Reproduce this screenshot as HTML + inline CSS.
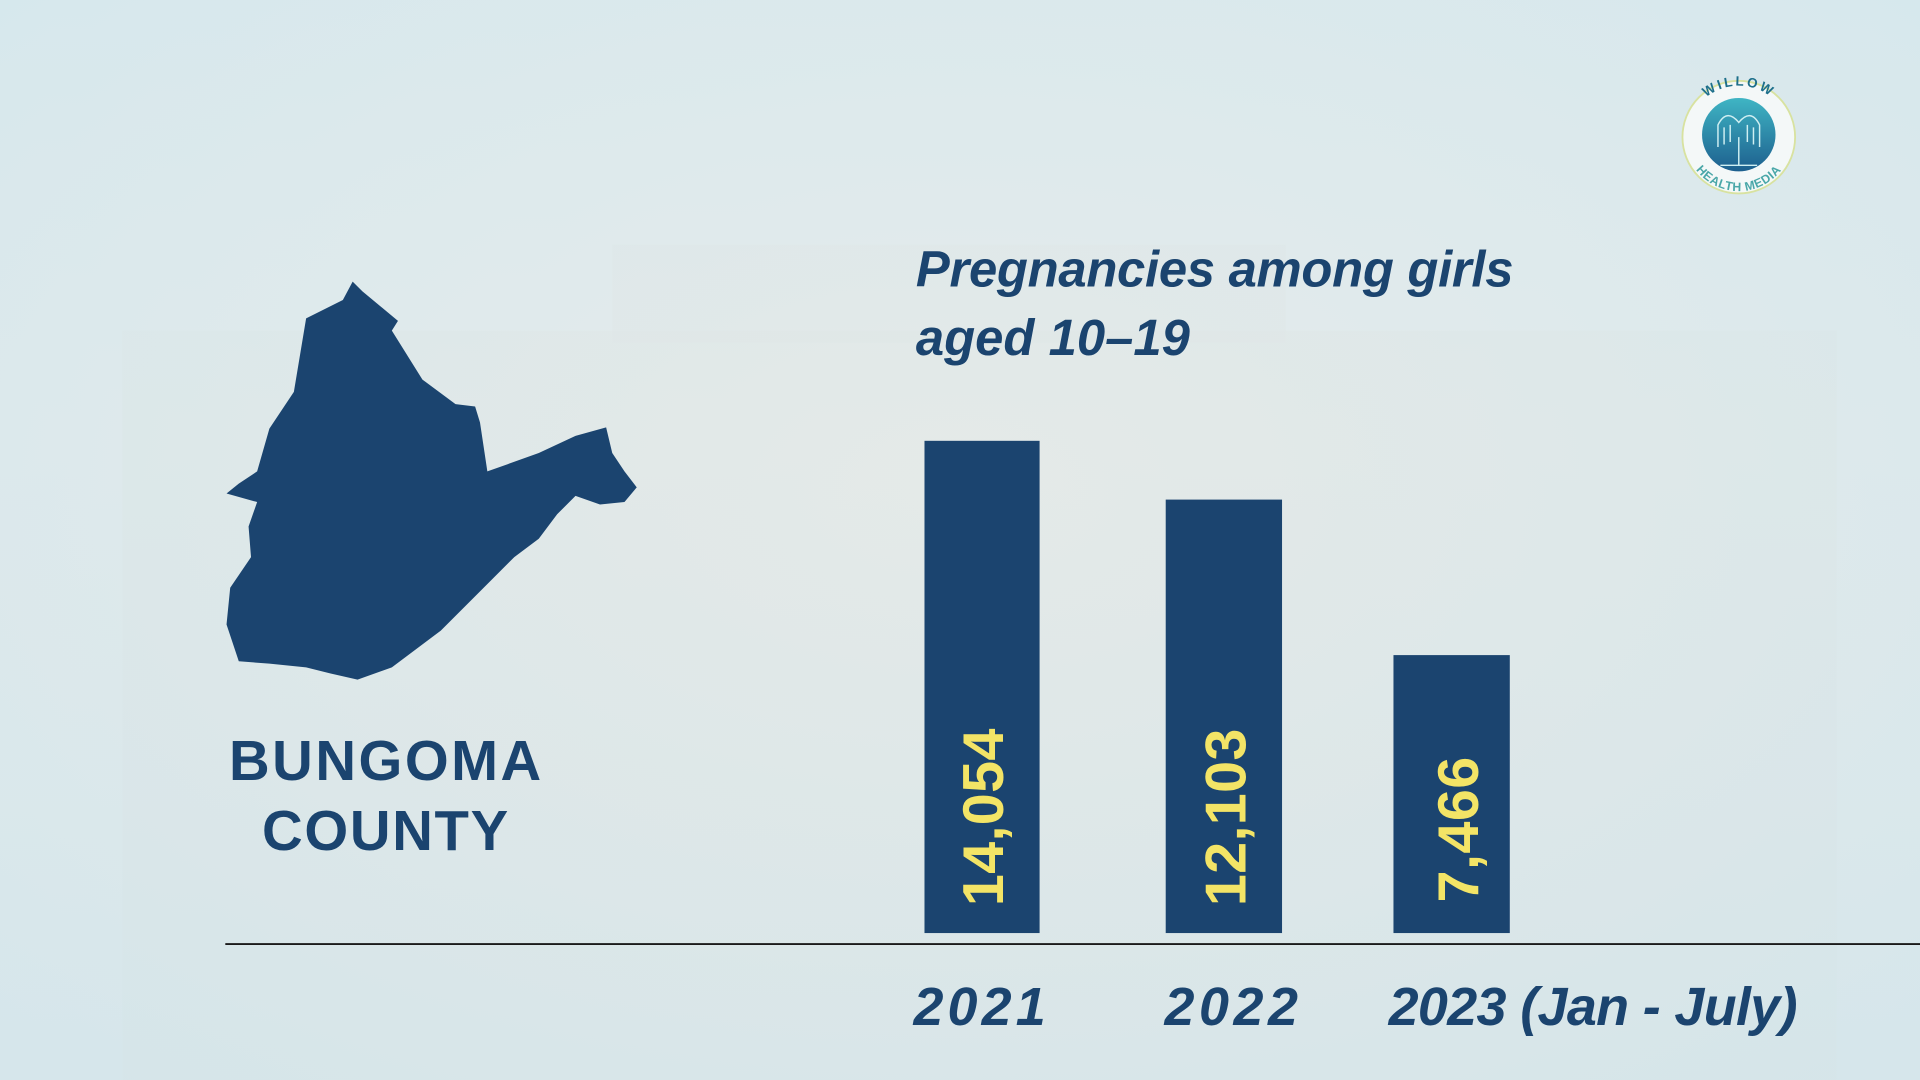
<!DOCTYPE html>
<html><head><meta charset="utf-8"><style>
html,body{margin:0;padding:0;width:1920px;height:1080px;overflow:hidden;background:#dfe9ec;}
svg{display:block}
</style></head><body>
<svg width="1920" height="1080" viewBox="0 0 1568 882" xmlns="http://www.w3.org/2000/svg">
<defs>
<linearGradient id="bg" x1="0" y1="0" x2="0" y2="1">
<stop offset="0" stop-color="#dcebef"/><stop offset="0.4" stop-color="#e3ebec"/><stop offset="1" stop-color="#dde7e9"/>
</linearGradient>
<radialGradient id="vig" cx="0.5" cy="0.45" r="0.7">
<stop offset="0" stop-color="#e8ecea" stop-opacity="0.6"/><stop offset="1" stop-color="#d3e6ec" stop-opacity="0.7"/>
</radialGradient>
<linearGradient id="lg" x1="0" y1="0" x2="0" y2="1">
<stop offset="0" stop-color="#3fb5c4"/><stop offset="1" stop-color="#1d5f8e"/>
</linearGradient>
<path id="arcTop" d="M1378,112 A42,42 0 0 1 1462,112"/>
<path id="arcBot" d="M1376,112 A44,44 0 0 0 1464,112"/>
</defs>
<rect width="1568" height="882" fill="url(#bg)"/>
<rect x="100" y="270" width="1400" height="612" fill="#d6dcdb" opacity="0.35"/>
<rect x="500" y="200" width="550" height="80" fill="#d6dcdb" opacity="0.3"/>
<rect width="1568" height="882" fill="url(#vig)"/>
<circle cx="1420" cy="112" r="46" fill="#f4f8f8" stroke="#d8e2a0" stroke-width="1.5"/>
<circle cx="1420" cy="110" r="30" fill="url(#lg)"/>
<g stroke="#cfeff2" stroke-width="1.2" fill="none">
<path d="M1420,135 V112 M1403,120 V102 Q1410,88 1420,100 Q1430,88 1437,102 V120 M1408,118 V104 M1432,118 V104 M1413,116 V102 M1427,116 V102 M1405,135 H1435"/>
</g>
<text font-family="Liberation Sans, sans-serif" font-weight="bold" font-size="11" fill="#1d6f8a" letter-spacing="2"><textPath href="#arcTop" startOffset="50%" text-anchor="middle">WILLOW</textPath></text>
<text font-family="Liberation Sans, sans-serif" font-weight="bold" font-size="10" fill="#4aa7a8" letter-spacing="0.5"><textPath href="#arcBot" startOffset="50%" text-anchor="middle" side="right">HEALTH MEDIA</textPath></text>
<path fill="#1b446f" d="M288,230 L296,238 L325,262 L320,270 L345,310 L372,330 L388,332 L392,345 L398,385 L440,370 L470,356 L495,349 L500,370 L510,385 L520,398 L510,410 L490,412 L470,405 L455,420 L440,440 L420,455 L400,475 L380,495 L360,515 L340,530 L320,545 L292,555 L270,550 L250,545 L220,542 L195,540 L185,510 L188,480 L205,455 L203,430 L210,410 L185,403 L195,395 L210,385 L220,350 L240,320 L250,260 L280,245 Z"/>
<g font-family="Liberation Sans, sans-serif" font-weight="bold" fill="#1b446f" font-size="46">
<text x="187" y="637" textLength="255">BUNGOMA</text>
<text x="214" y="694" textLength="201">COUNTY</text>
</g>
<g font-family="Liberation Sans, sans-serif" font-weight="bold" font-style="italic" fill="#1b446f" font-size="41.5">
<text x="748" y="234" textLength="488">Pregnancies among girls</text>
<text x="748" y="290">aged 10–19</text>
</g>
<rect x="755" y="360" width="94" height="402" fill="#1b446f"/>
<rect x="952" y="408" width="95" height="354" fill="#1b446f"/>
<rect x="1138" y="535" width="95" height="227" fill="#1b446f"/>
<g font-family="Liberation Sans, sans-serif" font-weight="bold" fill="#f3e466" font-size="47">
<text transform="translate(819,740) rotate(-90)" textLength="145">14,054</text>
<text transform="translate(1017,740) rotate(-90)" textLength="145">12,103</text>
<text transform="translate(1207,737) rotate(-90)" textLength="119">7,466</text>
</g>
<line x1="184" y1="771" x2="1568" y2="771" stroke="#1a1a1a" stroke-width="1.5"/>
<g font-family="Liberation Sans, sans-serif" font-weight="bold" font-style="italic" fill="#1b446f" font-size="44">
<text x="746" y="837" textLength="108">2021</text>
<text x="951" y="837" textLength="109">2022</text>
<text x="1134" y="837" textLength="334">2023 (Jan - July)</text>
</g>
</svg>
</body></html>
